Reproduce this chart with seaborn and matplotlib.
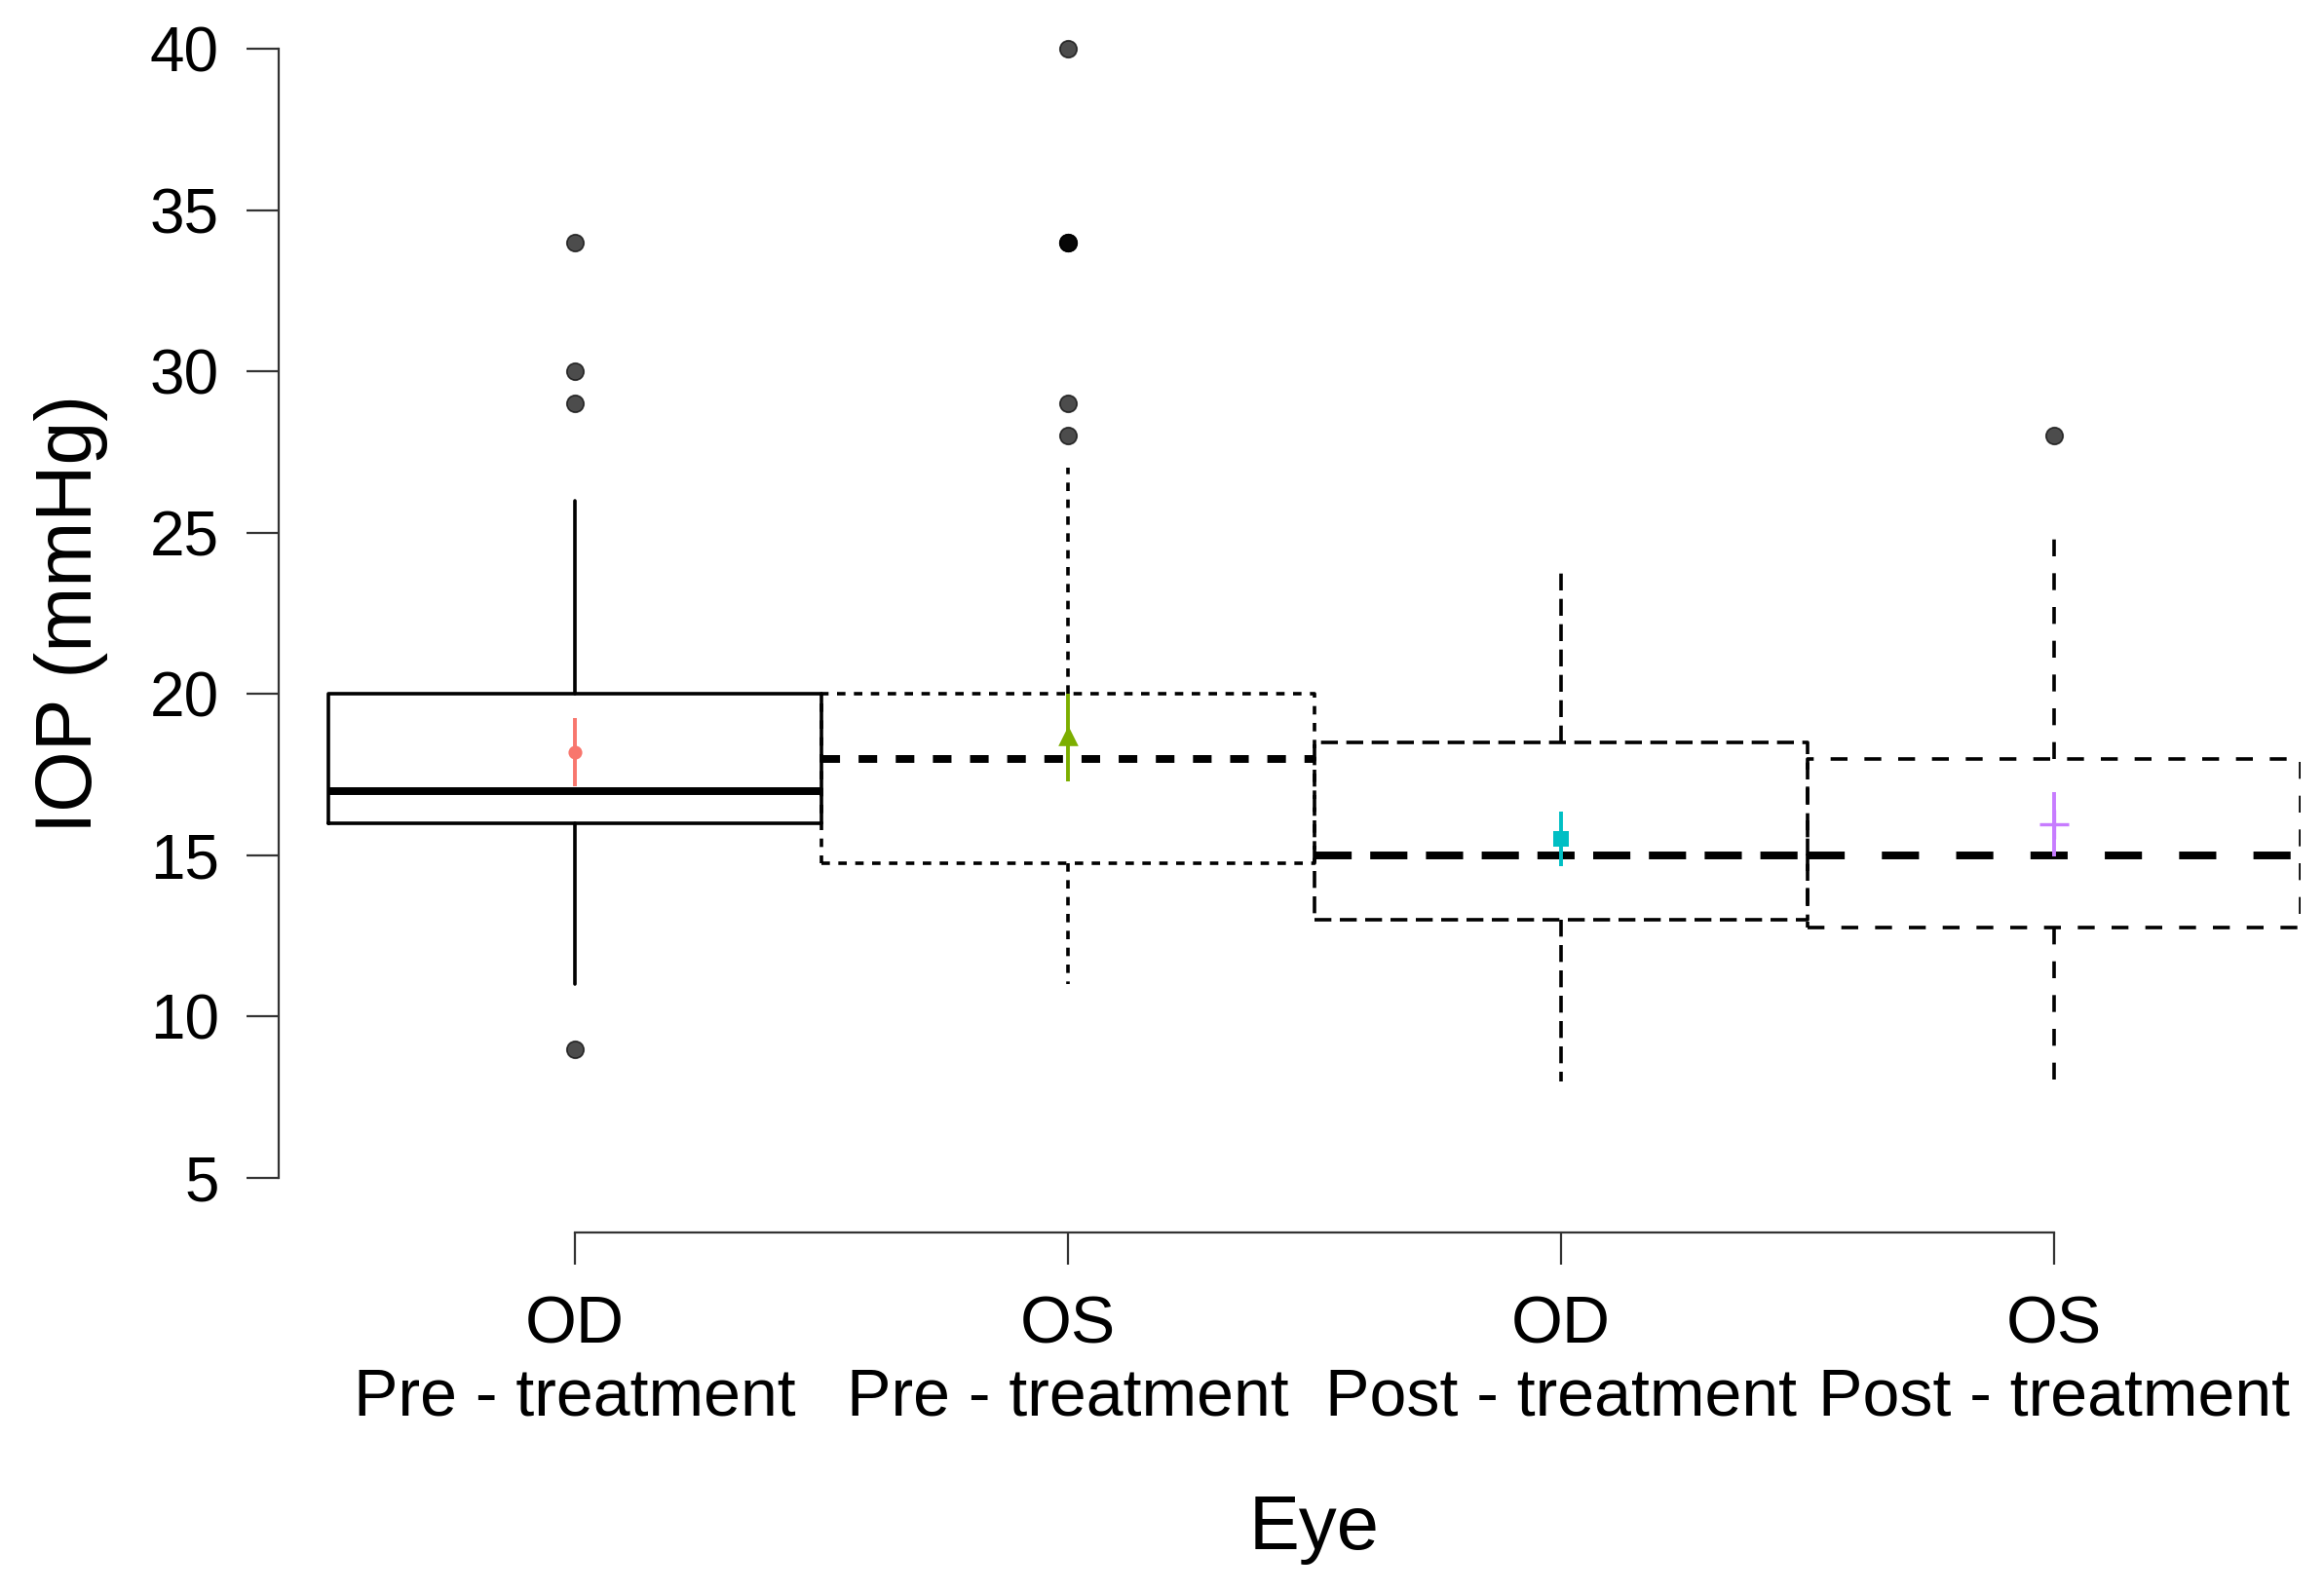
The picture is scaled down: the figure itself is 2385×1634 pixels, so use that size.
import numpy as np
import pandas as pd
import seaborn as sns
import matplotlib.pyplot as plt

# group labels (ggplot-style x axis: eye + treatment period)
groups = ["OD\nPre - treatment", "OS\nPre - treatment",
          "OD\nPost - treatment", "OS\nPost - treatment"]

# box statistics (mmHg)
q1 = [16.0, 14.75, 13.0, 12.75]
med = [17.0, 18.0, 15.0, 15.0]
q3 = [20.0, 20.0, 18.5, 18.0]
whislo = [11.0, 11.0, 8.0, 8.0]
whishi = [26.0, 27.0, 24.0, 25.0]
fliers = [[34, 30, 29, 9], [40, 34, 34, 34, 29, 28], [], [28]]

# mean and its confidence interval per group
means = [18.2, 18.7, 15.5, 15.97]
ci_lo = [17.15, 17.3, 14.65, 14.97]
ci_hi = [19.25, 20.0, 16.37, 16.95]

colors = ["#F8766D", "#7CAE00", "#00BFC4", "#C77CFF"]
markers = ["o", "^", "s", "+"]
msizes = [26, 55, 32, 110]
dashes = ["-", (0, (2.4, 2.4)), (0, (4.8, 2.4)), (0, (4.8, 4.8))]

sns.set_theme(style="ticks")
plt.rcParams["font.family"] = ["Liberation Sans", "DejaVu Sans"]
plt.rcParams["lines.scale_dashes"] = True
plt.rcParams["text.color"] = "black"
plt.rcParams["axes.labelcolor"] = "black"

fig = plt.figure(figsize=(11.925, 8.17), dpi=200)
ax = fig.add_axes([0.1199, 0.2479, 0.870, 0.7337])

box_lw = 1.3
for i in range(len(groups)):
    stats = [dict(q1=q1[i], med=med[i], q3=q3[i], whislo=whislo[i],
                  whishi=whishi[i], fliers=fliers[i], label=groups[i])]
    ax.bxp(stats, positions=[i], widths=1.0, showcaps=False, patch_artist=False,
           boxprops=dict(color="black", lw=box_lw, ls=dashes[i]),
           whiskerprops=dict(color="black", lw=box_lw, ls=dashes[i]),
           medianprops=dict(color="black", lw=box_lw * 2.2, ls=dashes[i],
                            solid_capstyle="butt", dash_capstyle="butt"),
           flierprops=dict(marker="o", markerfacecolor="black", markeredgecolor="black",
                           markersize=6.3, alpha=0.7, markeredgewidth=0.6))

# mean points and CI bars
mean_df = pd.DataFrame({"group": groups, "pos": range(4), "mean": means,
                        "lo": ci_lo, "hi": ci_hi})
ax.vlines(mean_df["pos"], mean_df["lo"], mean_df["hi"], colors=colors, lw=1.4, zorder=4)
for i, row in mean_df.iterrows():
    if markers[i] == "+":
        sns.scatterplot(x=[row["pos"]], y=[row["mean"]], marker="+", color=colors[i],
                        s=msizes[i], linewidth=1.2, ax=ax, zorder=5)
    else:
        sns.scatterplot(x=[row["pos"]], y=[row["mean"]], marker=markers[i], color=colors[i],
                        edgecolor=colors[i], s=msizes[i], linewidth=0, ax=ax, zorder=5)

ax.set_xlim(-0.6, 3.5)
ax.set_ylim(4.4, 40.6)
ax.set_yticks([5, 10, 15, 20, 25, 30, 35, 40])
ax.set_xticks(range(4))
ax.set_xticklabels(groups, linespacing=1.25)
ax.tick_params(axis="both", length=12, width=0.8, color="#333333", labelcolor="black")
ax.tick_params(axis="x", labelsize=24.5, pad=11)
ax.tick_params(axis="y", labelsize=23, pad=10)

for side in ["top", "right"]:
    ax.spines[side].set_visible(False)
for side in ["left", "bottom"]:
    ax.spines[side].set_color("#333333")
    ax.spines[side].set_linewidth(0.8)
ax.spines["left"].set_bounds(5, 40)
ax.spines["bottom"].set_bounds(0, 3)
ax.spines["bottom"].set_position(("outward", 13))

ax.set_xlabel("Eye", fontsize=28, color="black")
ax.set_ylabel("IOP (mmHg)", fontsize=29, color="black")
ax.xaxis.label.set_va("center")
ax.xaxis.set_label_coords(0.512, -0.284)
ax.yaxis.label.set_va("center")
ax.yaxis.set_label_coords(-0.1027, 0.5)

fig.savefig("out.png", dpi=200, facecolor="white")
